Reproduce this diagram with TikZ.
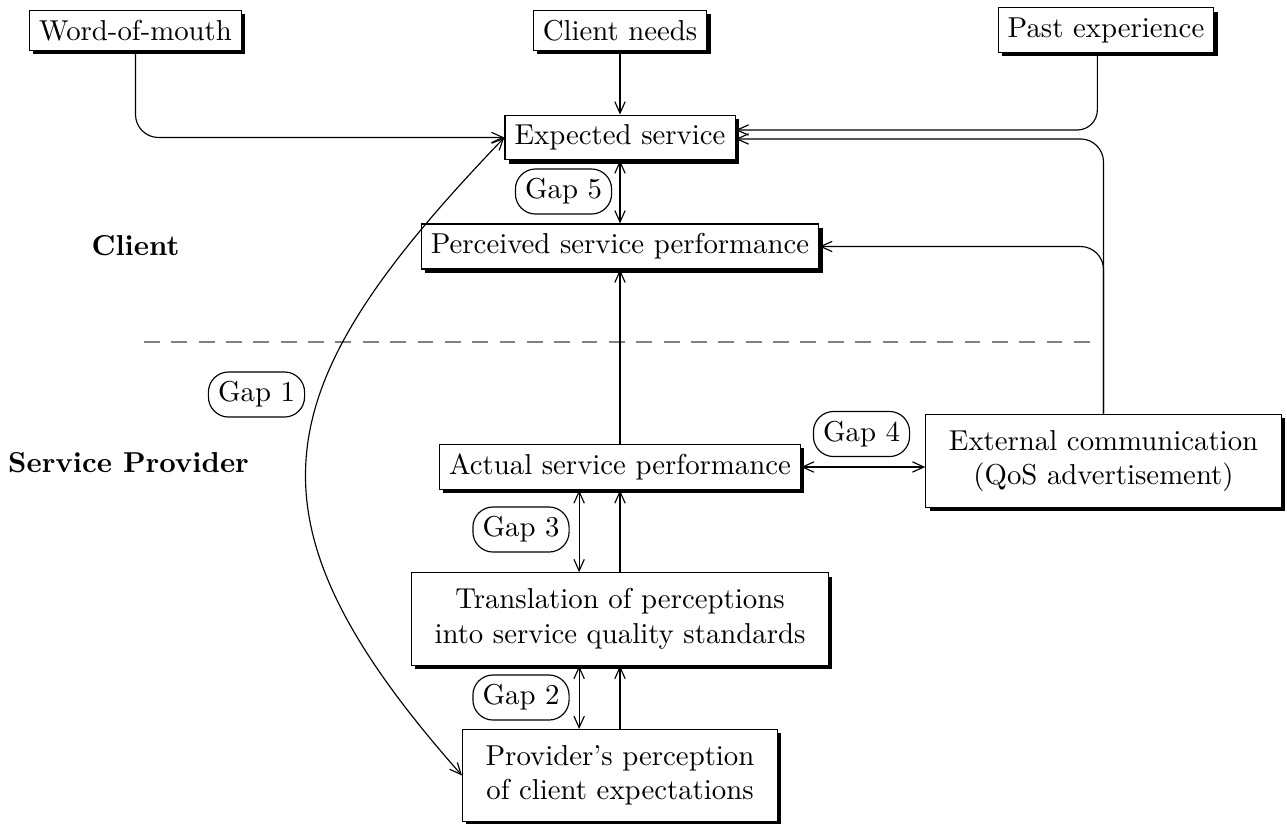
\documentclass[tikz,border=0pt]{standalone}
\usetikzlibrary{shadows,calc,arrows.meta}
\begin{document}
\begin{tikzpicture}[x=0.012203cm, y=-0.012203cm,
  >={Straight Barb[length=4pt,width=3.6pt]},
  box/.style={draw, fill=white, inner sep=3.33pt,
    drop shadow={shadow xshift=1.3pt, shadow yshift=-1.3pt, opacity=1, fill=black}},
  bigbox/.style={box, align=center, inner xsep=8pt, inner ysep=5.5pt},
  gap/.style={draw, rounded corners=7pt, inner sep=3.33pt, fill=white},
  lbl/.style={font=\bfseries},
  arr/.style={->},
  darr/.style={<->},
  sepline/.style={gray, dash pattern=on 5.5pt off 4pt}]
\useasboundingbox (0,0) rectangle (1287,823);

% separator
\draw[sepline] (144,342) -- (1095,342);

% labels
\node[lbl] (client) at (135.5,246) {Client};
\node[lbl] (sp) at (128.5,463) {Service Provider};

% boxes
\node[box] (wom) at (135.5,30.5) {Word-of-mouth};
\node[box] (cn) at (620,30.5) {Client needs};
\node[box] (past) at (1106,30) {Past experience};
\node[box] (exp) at (620,137.5) {Expected service};
\node[box] (perc) at (620,246.5) {Perceived service performance};
\node[box] (act) at (620,467) {Actual service performance};
\node[bigbox] (ext) at (1103.5,461) {External communication\\(QoS advertisement)};
\node[bigbox] (trans) at (620,619) {Translation of perceptions\\into service quality standards};
\node[bigbox] (prov) at (620,775.5) {Provider's perception\\of client expectations};

% gaps
\node[gap] (g5) at (563.5,191.5) {Gap 5};
\node[gap] (g1) at (256.5,394.5) {Gap 1};
\node[gap] (g4) at (861.5,434) {Gap 4};
\node[gap] (g3) at (521,529.5) {Gap 3};
\node[gap] (g2) at (521,697.5) {Gap 2};

% connectors
\draw[arr, rounded corners=8pt] (wom.south) |- (exp.west);
\draw[arr] (cn) -- (exp);
\draw[arr, rounded corners=7pt] ([xshift=-3pt]past.south) |- ([yshift=2.6pt]exp.east);
\draw[arr, rounded corners=8pt] (ext.north) |- ([yshift=-0.5pt]exp.east);
\draw[arr, rounded corners=8pt] (ext.north) |- (perc.east);
\draw[darr] (exp) -- (perc);
\draw[arr] (act) -- (perc);
\draw[darr] (act.east) -- (act.east -| ext.west);
\draw[darr] ([xshift=-14.2pt]act.south) -- ([xshift=-14.2pt]trans.north);
\draw[arr] (trans) -- (act);
\draw[darr] ([xshift=-14.2pt]trans.south) -- ([xshift=-14.2pt]prov.north);
\draw[arr] (prov) -- (trans);
\draw[darr] (exp.west) .. controls +(-240,250) and +(-230,-260) .. (prov.west);
\end{tikzpicture}
\end{document}
